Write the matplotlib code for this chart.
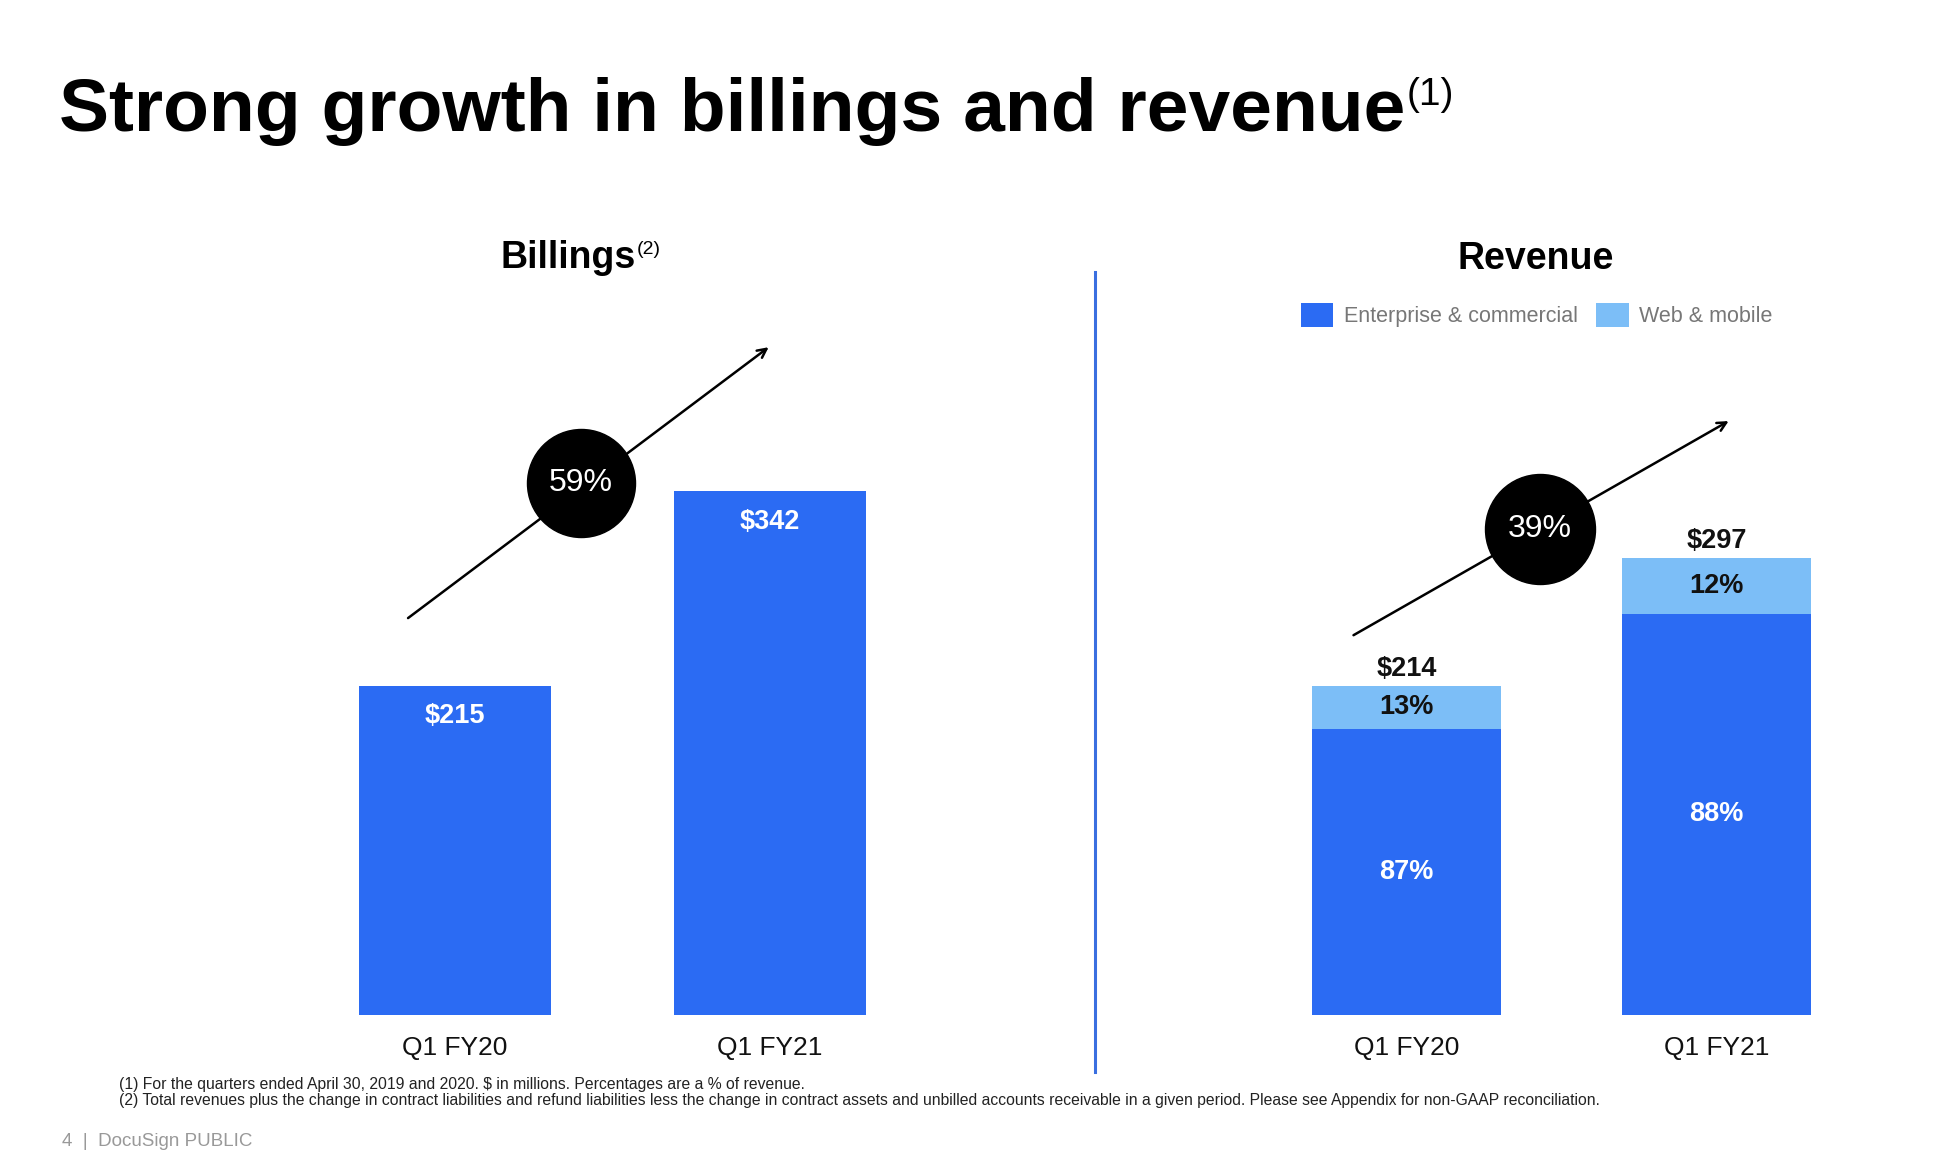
import matplotlib
matplotlib.use('Agg')
import matplotlib.pyplot as plt

plt.rcParams['font.family'] = ['Liberation Sans', 'DejaVu Sans']

# data ($ in millions)
quarters = ['Q1 FY20', 'Q1 FY21']
billings = [215, 342]
billings_growth = '59%'
rev_enterprise = [186, 261]
rev_web = [28, 36]
rev_total = [214, 297]
rev_enterprise_pct = ['87%', '88%']
rev_web_pct = ['13%', '12%']
revenue_growth = '39%'

BLUE = '#2B6BF3'
LIGHT = '#7CBEF7'
W, H = 1960, 1172

fig = plt.figure(figsize=(W / 100, H / 100), dpi=100)
fig.patch.set_facecolor('white')


def px_axes(left, top, right, bottom):
    # axes placed by pixel box (top-left origin)
    return fig.add_axes([left / W, 1 - bottom / H, (right - left) / W, (bottom - top) / H])


def style(ax, xlim, ylim):
    ax.set_xlim(*xlim)
    ax.set_ylim(*ylim)
    for s in ax.spines.values():
        s.set_visible(False)
    ax.set_yticks([])
    ax.set_xticks(range(len(quarters)))
    ax.set_xticklabels(quarters, fontsize=19, color='#111111')
    ax.tick_params(axis='x', length=0, pad=15)
    ax.patch.set_alpha(0)


# ---- Billings
ax1 = px_axes(300, 272, 900, 1015)
style(ax1, (-0.492, 1.413), (0, 485))
bars = ax1.bar(range(len(quarters)), billings, width=0.61, color=BLUE, linewidth=0)
for i, v in enumerate(billings):
    ax1.annotate('${}'.format(v), xy=(i, v), xytext=(0, -22), textcoords='offset points',
                 ha='center', va='center', fontsize=19.5, fontweight='bold', color='white')
ax1.annotate('', xy=(1.003, 437), xytext=(-0.156, 258),
             arrowprops=dict(arrowstyle='->', color='black', lw=1.8, mutation_scale=16))
ax1.scatter([0.40], [347], s=6050, color='black', zorder=5)
ax1.text(0.40, 347, billings_growth, ha='center', va='center', fontsize=23,
         color='white', zorder=6)

# ---- Revenue
ax2 = px_axes(1180, 272, 1900, 1015)
style(ax2, (-0.731, 1.592), (0, 483))
x = range(len(quarters))
ax2.bar(x, rev_enterprise, width=0.61, color=BLUE, linewidth=0, label='Enterprise & commercial')
ax2.bar(x, rev_web, bottom=rev_enterprise, width=0.61, color=LIGHT, linewidth=0, label='Web & mobile')
for i in x:
    ax2.text(i, rev_enterprise[i] / 2, rev_enterprise_pct[i], ha='center', va='center',
             fontsize=19.5, fontweight='bold', color='white')
    ax2.text(i, rev_enterprise[i] + rev_web[i] / 2, rev_web_pct[i], ha='center', va='center',
             fontsize=19.5, fontweight='bold', color='#111111')
    ax2.annotate('${}'.format(rev_total[i]), xy=(i, rev_total[i]), xytext=(0, 12),
                 textcoords='offset points', ha='center', va='center',
                 fontsize=19.5, fontweight='bold', color='#111111')
ax2.annotate('', xy=(1.047, 387), xytext=(-0.179, 246),
             arrowprops=dict(arrowstyle='->', color='black', lw=1.8, mutation_scale=16))
ax2.scatter([0.43], [316], s=6273, color='black', zorder=5)
ax2.text(0.43, 316, revenue_growth, ha='center', va='center', fontsize=23,
         color='white', zorder=6)

handles, labels = ax2.get_legend_handles_labels()
leg = fig.legend(handles, labels, loc='center left', bbox_to_anchor=(1301 / W, 1 - 315 / H),
                 ncol=2, frameon=False, fontsize=15.5, handlelength=1.5, handleheight=1.4,
                 handletextpad=0.5, columnspacing=0.85, borderpad=0, borderaxespad=0)
for t in leg.get_texts():
    t.set_color('#777777')

# divider
fig.add_artist(plt.Line2D([1095 / W, 1095 / W], [1 - 272 / H, 1 - 1072 / H],
                          color='#3A6FE0', lw=2.2))

# ---- titles
renderer = fig.canvas.get_renderer()


def title_with_sup(x, y, main, sup, size, sup_size, ha='left'):
    t = fig.text(x / W, 1 - y / H, main, fontsize=size, fontweight='bold', ha=ha,
                 va='baseline', color='black')
    bb = t.get_window_extent(renderer)
    fig.text((bb.x1 + 1) / W, 1 - (y - size * 100 / 72 * 0.72) / H, sup, fontsize=sup_size,
             ha='left', va='top', color='black')
    return t


title_with_sup(59, 131, 'Strong growth in billings and revenue', '(1)', 54, 28)
title_with_sup(568, 268, 'Billings', '(2)', 27, 14, ha='center')
fig.text(1536 / W, 1 - 269 / H, 'Revenue', fontsize=27, fontweight='bold', ha='center',
         va='baseline', color='black')

# ---- footnotes
fig.text(119 / W, 1 - 1085 / H,
         '(1) For the quarters ended April 30, 2019 and 2020. $ in millions. Percentages are a % of revenue.',
         fontsize=11.3, va='center', color='#222222')
fig.text(119 / W, 1 - 1101 / H,
         '(2) Total revenues plus the change in contract liabilities and refund liabilities less the change '
         'in contract assets and unbilled accounts receivable in a given period. Please see Appendix for '
         'non-GAAP reconciliation.',
         fontsize=11.3, va='center', color='#222222')
fig.text(62 / W, 1 - 1141 / H, '4  |  DocuSign PUBLIC', fontsize=13.5, va='center', color='#999999')

plt.savefig('out.png', dpi=100, facecolor='white')
